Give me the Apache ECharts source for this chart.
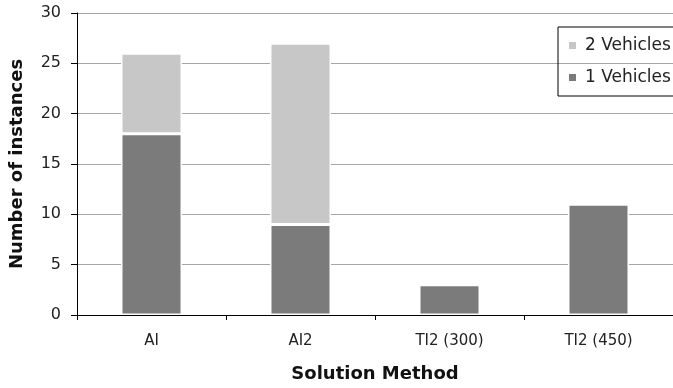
<!DOCTYPE html>
<html><head><meta charset="utf-8">
<script src="https://cdn.jsdelivr.net/npm/echarts@6/dist/echarts.min.js"></script>
<style>html,body{margin:0;padding:0;background:#fff}#c{width:673px;height:388px}</style>
</head><body><div id="c"></div>
<script>
const categories = ['AI', 'AI2', 'TI2 (300)', 'TI2 (450)'];
const oneVehicle = [18, 9, 3, 11];
const twoVehicles = [8, 18, 0, 0];
const yTicks = [0, 5, 10, 15, 20, 25, 30];

const font = 'DejaVu Sans';
const chart = echarts.init(document.getElementById('c'));
chart.setOption({
  animation: false,
  textStyle: { fontFamily: font },
  grid: { left: 75, right: -5, top: 13, bottom: 70.5 },
  legend: {
    orient: 'vertical', left: 558, top: 27,
    data: ['2 Vehicles', '1 Vehicles'],
    borderColor: '#000', borderWidth: 1,
    padding: [10, 12, 10, 9],
    itemGap: 15, itemWidth: 9, itemHeight: 9, icon: 'rect',
    textStyle: { fontSize: 17, color: '#222', fontFamily: font, padding: [0, 0, 0, 3] }
  },
  xAxis: {
    type: 'category', data: categories,
    name: 'Solution Method', nameLocation: 'middle', nameGap: 50,
    nameTextStyle: { fontSize: 18, fontWeight: 'bold', color: '#111', fontFamily: font },
    axisLine: { lineStyle: { color: '#000', width: 1 } },
    axisTick: { show: true, length: 5, lineStyle: { color: '#000' } },
    axisLabel: { fontSize: 15, color: '#222', margin: 19 }
  },
  yAxis: {
    type: 'value', min: 0, max: 30, interval: 5,
    name: 'Number of instances', nameLocation: 'middle', nameGap: 51,
    nameTextStyle: { fontSize: 18, fontWeight: 'bold', color: '#111', fontFamily: font },
    axisLine: { show: true, lineStyle: { color: '#000', width: 1 } },
    axisTick: { show: true, length: 6, lineStyle: { color: '#000' } },
    axisLabel: { fontSize: 16, color: '#222', margin: 16,
      formatter: v => yTicks.includes(v) ? String(v) : '' },
    splitLine: { lineStyle: { color: '#a6a6a6', width: 1 } }
  },
  series: [
    { name: '1 Vehicles', type: 'bar', stack: 's', data: oneVehicle, barWidth: 61,
      itemStyle: { color: '#7b7b7b', borderColor: '#fff', borderWidth: 1.5 } },
    { name: '2 Vehicles', type: 'bar', stack: 's', data: twoVehicles, barWidth: 61,
      itemStyle: { color: '#c6c7c6', borderColor: '#fff', borderWidth: 1.5 } }
  ]
});
</script></body></html>
